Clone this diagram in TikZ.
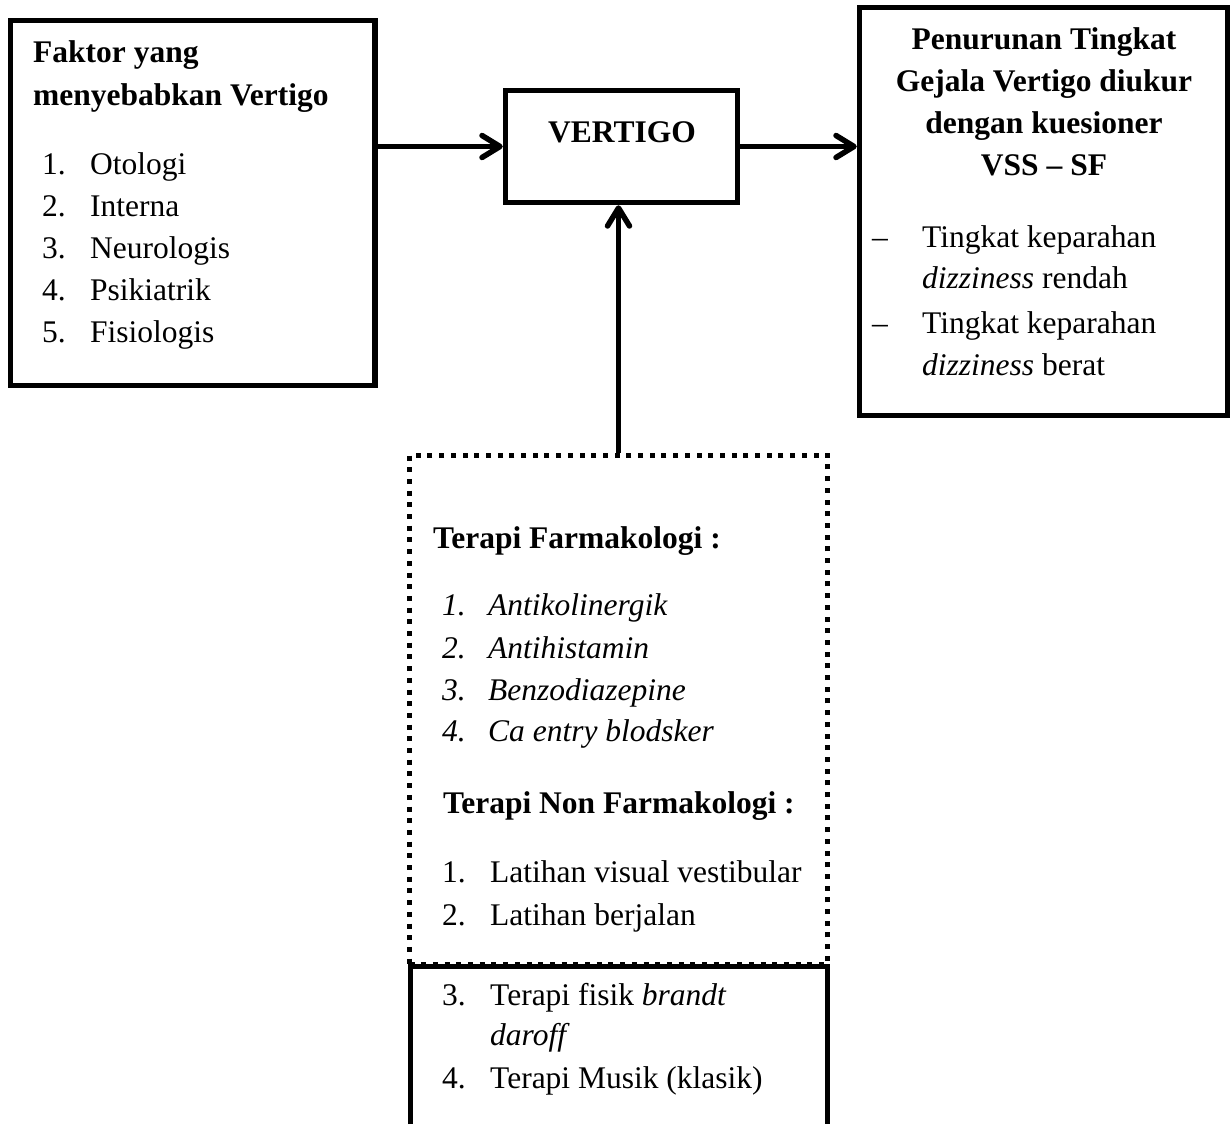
\documentclass[tikz,border=0pt]{standalone}
\usepackage{fontspec}
\setmainfont{Liberation Serif}
\usetikzlibrary{arrows.meta}
\begin{document}
\begin{tikzpicture}[x=1pt,y=-1pt,
  box/.style={draw, line width=5.5pt, rectangle, inner sep=0pt},
  dotbox/.style={draw, line width=5pt, dash pattern=on 5pt off 6.7pt, inner sep=0pt},
  txt/.style={anchor=base west, inner sep=0pt, font=\fontsize{31.5}{42}\selectfont},
  bt/.style={txt, font=\fontsize{31.5}{42}\selectfont\bfseries},
  it/.style={txt, font=\fontsize{31.5}{42}\selectfont\itshape},
  ctxt/.style={anchor=base, inner sep=0pt, font=\fontsize{31.5}{42}\selectfont\bfseries},
  arr/.style={line width=5.5pt, -{Straight Barb[length=18pt,width=22pt,round]}}]
\useasboundingbox (0,0) rectangle (1231,1124);

% boxes
\node[box, minimum width=364.5pt, minimum height=365pt] (faktor) at (192.75,203) {};
\node[box, minimum width=232pt, minimum height=112pt] (vertigo) at (621.5,146.5) {};
\node[box, minimum width=368pt, minimum height=408pt] (hasil) at (1043.5,211.5) {};
\node[dotbox, minimum width=418pt, minimum height=509pt] (terapi) at (618.5,709.5) {};
\coordinate (nbl) at (410.5,1124);
\coordinate (nbr) at (827.5,1124);
\draw[line width=5.5pt] (nbl) -- (nbl |- terapi.south) -- (nbr |- terapi.south) -- (nbr);

% left box text
\node[bt] (f1) at (33,63) {Faktor yang};
\node[bt] (f2) at (33,105) {menyebabkan Vertigo};
\node[txt] (fn1) at (42,174) {1.};
\node[txt] (ft1) at (90,174) {Otologi};
\node[txt] (fn2) at (42,216) {2.};
\node[txt] (ft2) at (90,216) {Interna};
\node[txt] (fn3) at (42,258) {3.};
\node[txt] (ft3) at (90,258) {Neurologis};
\node[txt] (fn4) at (42,300) {4.};
\node[txt] (ft4) at (90,300) {Psikiatrik};
\node[txt] (fn5) at (42,342) {5.};
\node[txt] (ft5) at (90,342) {Fisiologis};

% vertigo
\node[ctxt] (vt) at (622,142) {VERTIGO};

% right box text
\node[ctxt] (h1) at (1044,50) {Penurunan Tingkat};
\node[ctxt] (h2) at (1044,92) {Gejala Vertigo diukur};
\node[ctxt] (h3) at (1044,133) {dengan kuesioner};
\node[ctxt] (h4) at (1044,175) {VSS – SF};
\node[txt] (hd1) at (872,247) {–};
\node[txt] (hb1) at (922,247) {Tingkat keparahan};
\node[txt] (hc1) at (922,288) {\textit{dizziness} rendah};
\node[txt] (hd2) at (872,333) {–};
\node[txt] (hb2) at (922,333) {Tingkat keparahan};
\node[txt] (hc2) at (922,375) {\textit{dizziness} berat};

% terapi text
\node[bt] (tf) at (433,548) {Terapi Farmakologi :};
\node[it] (tn1) at (442,615) {1.};
\node[it] (tt1) at (488,615) {Antikolinergik};
\node[it] (tn2) at (442,658) {2.};
\node[it] (tt2) at (488,658) {Antihistamin};
\node[it] (tn3) at (442,700) {3.};
\node[it] (tt3) at (488,700) {Benzodiazepine};
\node[it] (tn4) at (442,741) {4.};
\node[it] (tt4) at (488,741) {Ca entry blodsker};
\node[bt] (tnf) at (443,813) {Terapi Non Farmakologi :};
\node[txt] (nn1) at (442,882) {1.};
\node[txt] (nt1) at (490,882) {Latihan visual vestibular};
\node[txt] (nn2) at (442,925) {2.};
\node[txt] (nt2) at (490,925) {Latihan berjalan};
\node[txt] (nn3) at (442,1005) {3.};
\node[txt] (nt3) at (490,1005) {Terapi fisik \textit{brandt}};
\node[txt] (nt3b) at (490,1045) {\textit{daroff}};
\node[txt] (nn4) at (442,1088) {4.};
\node[txt] (nt4) at (490,1088) {Terapi Musik (klasik)};

% arrows
\draw[arr] (vertigo.west -| faktor.east) -- (vertigo.west);
\draw[arr] (vertigo.east) -- (vertigo.east -| hasil.west);
\draw[arr] (terapi.north) -- (terapi.north |- vertigo.south);
\end{tikzpicture}
\end{document}
